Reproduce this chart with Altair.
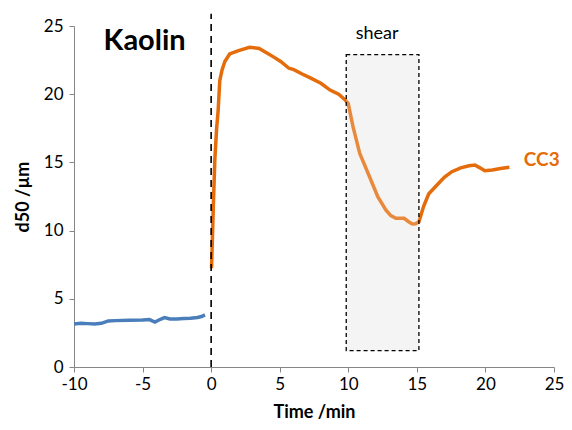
import altair as alt
import pandas as pd

blue_x = [-10, -9.5, -9, -8.5, -8, -7.5, -7, -6, -5, -4.5, -4.1, -3.7, -3.4, -3, -2.5, -2, -1.5, -1, -0.7, -0.45]
blue_y = [3.15, 3.2, 3.18, 3.15, 3.2, 3.38, 3.4, 3.42, 3.45, 3.48, 3.3, 3.5, 3.62, 3.52, 3.52, 3.55, 3.58, 3.63, 3.7, 3.82]

orange_x = [0.03, 0.15, 0.27, 0.4, 0.51, 0.63, 0.8, 1.0, 1.35, 2.0, 2.8, 3.5, 4.1, 4.6, 5.07, 5.67, 6.03, 6.6,
            7.23, 8.0, 8.67, 9.3, 9.75, 9.99, 10.35, 10.83, 11.55, 12.15, 12.75, 13.1, 13.47, 14.07, 14.4, 14.67,
            14.9, 15.15, 15.5, 15.87, 16.59, 17.0, 17.55, 18.2, 18.8, 19.23, 19.6, 19.95, 20.5, 21.1, 21.75]
orange_y = [7.24, 11.5, 15.2, 17.5, 18.8, 21.0, 21.8, 22.4, 22.95, 23.2, 23.44, 23.35, 23.0, 22.7, 22.4, 21.9, 21.8, 21.5,
            21.2, 20.8, 20.3, 20.0, 19.6, 19.33, 17.6, 15.67, 13.95, 12.49, 11.5, 11.1, 10.9, 10.9, 10.65, 10.48,
            10.5, 10.65, 11.8, 12.7, 13.47, 13.9, 14.32, 14.6, 14.75, 14.81, 14.6, 14.39, 14.45, 14.55, 14.64]

shear_box = {"x": 9.85, "x2": 15.15, "y": 1.2, "y2": 22.9}
marker = {"x": 0, "y": 0, "y2": 25.9}

labels = pd.DataFrame({
    "x": [-4.85, 12.1, 22.8],
    "y": [23.9, 24.4, 15.2],
    "text": ["Kaolin", "shear", "CC3"],
})

FONT = "Lato"
blue = "#4a7ebb"
orange = "#e46c0a"

xs = alt.Scale(domain=[-10, 25], nice=False)
ys = alt.Scale(domain=[0, 25], nice=False)

xax = alt.Axis(values=list(range(-10, 26, 5)), title="Time /min", grid=False, domainColor="#868686",
               tickColor="#868686", tickSize=5, labelFont=FONT, labelFontSize=17, labelColor="#000",
               labelFlush=False, labelOverlap=False, labelExpr="datum.value + ''",
               titleFont=FONT, titleFontSize=18, titleFontWeight="bold", titleColor="#000", titlePadding=11,
               labelPadding=4)
yax = alt.Axis(values=list(range(0, 26, 5)), title="d50 /µm", grid=False, domainColor="#868686",
               tickColor="#868686", tickSize=5, labelFont=FONT, labelFontSize=17, labelColor="#000",
               labelFlush=False, labelOverlap=False,
               titleFont=FONT, titleFontSize=18, titleFontWeight="bold", titleColor="#000", titlePadding=11,
               labelPadding=6)

box_df = pd.DataFrame([shear_box])
box_bg = alt.Chart(box_df).mark_rect(fill="#f2f2f2").encode(
    x=alt.X("x:Q", scale=xs, axis=xax), x2="x2", y=alt.Y("y:Q", scale=ys, axis=yax), y2="y2")

bdf = pd.DataFrame({"x": blue_x, "y": blue_y})
odf = pd.DataFrame({"x": orange_x, "y": orange_y})

bline = alt.Chart(bdf).mark_line(color=blue, strokeWidth=3.5).encode(x=alt.X("x:Q", scale=xs), y=alt.Y("y:Q", scale=ys))
oline = alt.Chart(odf).mark_line(color=orange, strokeWidth=3.5).encode(x=alt.X("x:Q", scale=xs), y=alt.Y("y:Q", scale=ys))

box_fg = alt.Chart(box_df).mark_rect(fill="#ffffff", fillOpacity=0.2, stroke="#000", strokeWidth=1.3,
                                      strokeDash=[4, 3]).encode(x="x:Q", x2="x2", y="y:Q", y2="y2")

mdf = pd.DataFrame([marker])
mrule = alt.Chart(mdf).mark_rule(color="#000", strokeWidth=1.6, strokeDash=[7, 5]).encode(
    x="x:Q", y="y:Q", y2="y2")

tk = alt.Chart(labels.iloc[[0]]).mark_text(font=FONT, fontSize=29, fontWeight="bold", color="#000").encode(
    x="x:Q", y="y:Q", text="text:N")
ts = alt.Chart(labels.iloc[[1]]).mark_text(font=FONT, fontSize=18, color="#000").encode(
    x="x:Q", y="y:Q", text="text:N")
tc = alt.Chart(labels.iloc[[2]]).mark_text(font=FONT, fontSize=19, fontWeight="bold", color=orange, align="left").encode(
    x="x:Q", y="y:Q", text="text:N")

chart = alt.layer(box_bg, bline, oline, box_fg, mrule, tk, ts, tc).properties(
    width=480, height=341,
    autosize=alt.AutoSizeParams(type="none"),
    padding={"left": 66, "top": 18, "right": 10, "bottom": 55},
).configure_view(stroke=None)

chart.save("out.html", embed_options={"renderer": "svg", "actions": False})
